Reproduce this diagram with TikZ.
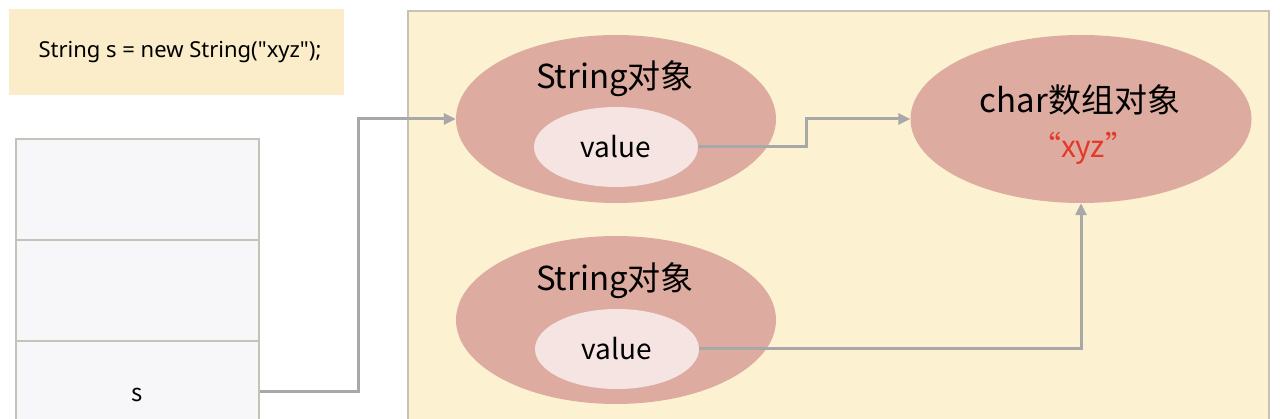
\documentclass[tikz,border=0pt]{standalone}
\usepackage{fontspec}
\setmainfont{Noto Sans CJK SC}
\newfontfamily\codefont[Ligatures=TeXOff]{Noto Sans}
\usetikzlibrary{shapes.geometric,arrows.meta}
\definecolor{codefill}{HTML}{FBEDC9}
\definecolor{heapfill}{HTML}{FCF1D1}
\definecolor{stackfill}{HTML}{F7F7FA}
\definecolor{bordergray}{HTML}{C6C2B8}
\definecolor{objfill}{HTML}{DDABA0}
\definecolor{valfill}{HTML}{F5E4E2}
\definecolor{conngray}{HTML}{A8A8A8}
\definecolor{xyzred}{HTML}{E3382A}
\tikzset{
  obj/.style={ellipse, fill=objfill, draw=none, minimum width=320pt, minimum height=168pt, inner sep=0pt},
  valbox/.style={ellipse, fill=valfill, draw=none, minimum width=164pt, minimum height=80pt, inner sep=0pt,
    font=\fontsize{28}{32}\selectfont},
  title/.style={font=\fontsize{33}{38}\selectfont, inner sep=0pt},
  cell/.style={rectangle, fill=stackfill, draw=bordergray, line width=2pt, minimum width=243pt, minimum height=101pt, inner sep=0pt},
  conn/.style={draw=conngray, line width=3pt, -{Triangle[length=12pt,width=11pt]}},
}
\begin{document}
\begin{tikzpicture}[x=1pt,y=-1pt]
\useasboundingbox (0,0) rectangle (1280,419);
\clip (0,0) rectangle (1280,419);
% code box
\node[rectangle, fill=codefill, minimum width=335pt, minimum height=86pt, inner sep=0pt] (code) at (176.5,52) {};
\node[font=\codefont\fontsize{22}{26}\selectfont, inner sep=0pt] (codetext) at (180,52) {String s = new String("xyz");};
% heap
\node[rectangle, fill=heapfill, draw=bordergray, line width=2pt, minimum width=861pt, minimum height=440pt, inner sep=0pt] (heap) at (838.5,231) {};
% stack
\node[cell] (cell1) at (137.5,189.5) {};
\node[cell] (cell2) at (137.5,290.5) {};
\node[cell] (cell3) at (137.5,391.5) {};
\node[font=\fontsize{24}{28}\selectfont, inner sep=0pt] (slabel) at (137,395) {s};
% objects
\node[obj] (str1) at (616,119) {};
\node[title] (str1t) at (615,79) {String对象};
\node[valbox] (val1) at (616,147) {value};
\node[obj] (str2) at (616,320) {};
\node[title] (str2t) at (615,281) {String对象};
\node[valbox] (val2) at (617,349) {value};
\node[obj, minimum width=341pt] (chr) at (1081,119) {};
\node[title] (chrt) at (1080,100) {char数组对象};
\node[font=\fontsize{30}{34}\selectfont, text=xyzred, inner sep=0pt] (xyz) at (1083,148) {“xyz”};
% connectors
\draw[conn] (cell3.east) -- ++(98,0) |- (str1.west);
\draw[conn] (val1.east) -- ++(108,0) |- (chr.west);
\draw[conn] (val2.east) -| (chr.south);
\end{tikzpicture}
\end{document}
